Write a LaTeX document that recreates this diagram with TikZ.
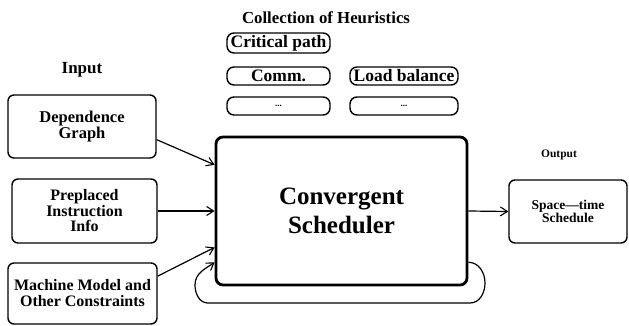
\documentclass[tikz,border=0pt]{standalone}
\usepackage{fontspec}
\setmainfont{Liberation Serif}
\usetikzlibrary{arrows.meta}
\tikzset{
  box/.style={draw, line width=1.4pt, rounded corners=6pt, align=center,
    inner sep=0pt, font=\bfseries},
  heur/.style={draw, line width=1.4pt, rounded corners=7pt, align=center,
    inner sep=0pt, minimum width=103pt, font=\bfseries\fontsize{17.5}{17.5}\selectfont},
  dots/.style={font=\bfseries\fontsize{9}{9}\selectfont},
  mainbox/.style={draw, line width=2.8pt, rounded corners=7pt, align=center,
    inner sep=0pt, minimum width=251pt, minimum height=148pt,
    font=\bfseries\fontsize{25}{29}\selectfont},
  lbl/.style={font=\bfseries, inner sep=0pt},
  arr/.style={line width=1.2pt, -{Straight Barb[length=7pt,width=9pt,line width=1.1pt]}},
}
\begin{document}
\begin{tikzpicture}[x=1pt,y=-1pt]
  \useasboundingbox (0,0) rectangle (629,326);

  % section headings
  \node[lbl, font=\bfseries\fontsize{17}{17}\selectfont] (inlbl) at (82,70) {Input};
  \node[lbl, font=\bfseries\fontsize{11.5}{12}\selectfont] (outlbl) at (559,155) {Output};
  \node[lbl, font=\bfseries\fontsize{16.8}{17}\selectfont] (heurlbl) at (326,18) {Collection of Heuristics};

  % heuristics
  \node[heur, minimum height=20pt] (crit) at (278.5,43) {Critical path};
  \node[heur, minimum height=18pt] (comm) at (278.5,76) {Comm.};
  \node[heur, minimum height=18pt, minimum width=108pt] (load) at (404,76) {Load balance};
  \node[heur, minimum height=18pt, dots] (more1) at (278.5,106) {...};
  \node[heur, minimum height=18pt, minimum width=108pt, dots] (more2) at (404,106) {...};

  % inputs
  \node[box, minimum width=148pt, minimum height=63pt,
        font=\bfseries\fontsize{16.5}{16}\selectfont] (dg) at (82,126.5) {Dependence\\Graph};
  \node[box, minimum width=145pt, minimum height=64pt,
        font=\bfseries\fontsize{16}{15.5}\selectfont] (pp) at (84.5,211) {Preplaced\\Instruction\\Info};
  \node[box, minimum width=149pt, minimum height=61pt,
        font=\bfseries\fontsize{16}{16}\selectfont] (mm) at (82.5,293.5) {Machine Model and\\Other Constraints};

  % scheduler and output
  \node[mainbox] (main) at (341.5,211) {Convergent\\Scheduler};
  \node[box, minimum width=118pt, minimum height=63pt,
        font=\bfseries\fontsize{13.5}{13}\selectfont] (st) at (568,211.5) {Space---time\\Schedule};

  % connectors
  \draw[arr] (dg.-10) -- (main.160);
  \draw[arr] (pp.east) -- (main.west);
  \draw[arr] (mm.13) -- (main.196);
  \draw[arr] (main.east) -- (st.west);

  % feedback loop
  \coordinate (lr) at (485,283);
  \coordinate (ll) at (195,285);
  \draw[arr] (main.-22) to[out=0,in=90] (lr) to[out=-90,in=0] (470,303)
    -- (208,303) to[out=180,in=-90] (ll) to[out=90,in=215] (main.202);
\end{tikzpicture}
\end{document}
